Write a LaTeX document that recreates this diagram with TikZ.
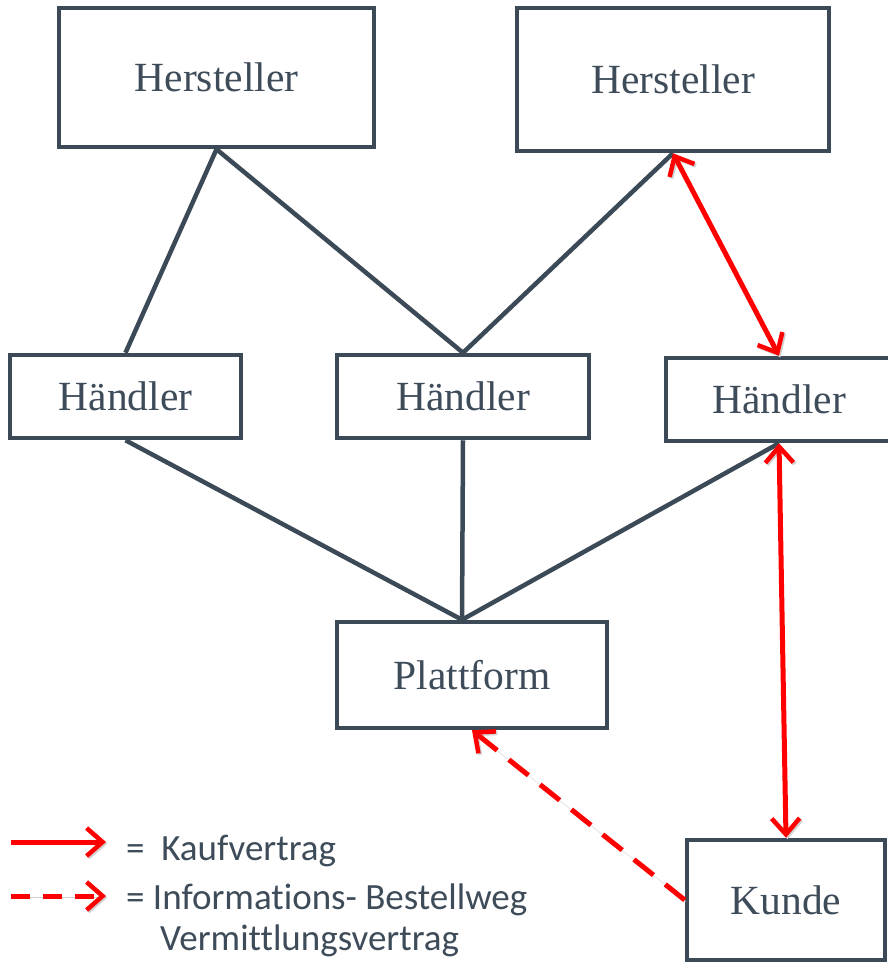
\documentclass[tikz,border=0pt]{standalone}
\usepackage{fontspec}
\setmainfont{Liberation Serif}
\newfontfamily\legendfont[Ligatures={NoCommon}]{Carlito}
\usetikzlibrary{arrows.meta,calc}
\definecolor{boxgray}{HTML}{3C4A58}
\definecolor{txtgray}{HTML}{3E4C5A}
\definecolor{kred}{HTML}{FF0000}
\tikzset{
  redtip/.tip={Straight Barb[length=16pt, width=28pt, line width=4.5pt]},
  box/.style={draw=boxgray, line width=4.5pt, fill=white, text=txtgray,
    font=\fontsize{41.5}{48}\selectfont, inner sep=0pt},
  link/.style={draw=boxgray, line width=4.5pt},
  kauf/.style={draw=kred, line width=5pt, {redtip}-{redtip},
    preaction={draw=black!18, transform canvas={shift={(1.5pt,-1.5pt)}}}},
  kaufone/.style={draw=kred, line width=5pt, -{redtip},
    preaction={draw=black!18, transform canvas={shift={(1.5pt,-1.5pt)}}}},
  info/.style={draw=kred, line width=5pt, dash pattern=on 25pt off 15pt, -{redtip},
    preaction={draw=black!18, transform canvas={shift={(1.5pt,-1.5pt)}}}},
  infolegend/.style={draw=kred, line width=5pt, dash pattern=on 19pt off 13pt, -{redtip},
    preaction={draw=black!18, transform canvas={shift={(1.5pt,-1.5pt)}}}},
  legtext/.style={text=txtgray, font=\legendfont\fontsize{37}{44}\selectfont, anchor=base west, inner sep=0pt},
}
\begin{document}
\begin{tikzpicture}[x=1pt, y=-1pt]
\path[use as bounding box, fill=white] (0,0) rectangle (888,963);

% boxes
\node[box, minimum width=315pt, minimum height=139pt] (h1) at (216.5,77.5) {Hersteller};
\node[box, minimum width=312pt, minimum height=143pt] (h2) at (673,79.5) {Hersteller};
\node[box, minimum width=231pt, minimum height=83pt] (d1) at (125.5,396.5) {Händler};
\node[box, minimum width=252pt, minimum height=83pt] (d2) at (463,396.5) {Händler};
\node[box, minimum width=226pt, minimum height=83pt] (d3) at (779,399.5) {Händler};
\node[box, minimum width=270pt, minimum height=106pt] (pl) at (472,675) {Plattform};
\node[box, minimum width=198pt, minimum height=120pt] (ku) at (786,900) {Kunde};

% gray links
\draw[link] (h1.south) -- (d1.north);
\draw[link] (h1.south) -- (d2.north);
\draw[link] (h2.south) -- (d2.north);
\draw[link] (d1.south) -- ([xshift=-10pt]pl.north);
\draw[link] (d2.south) -- ([xshift=-10pt]pl.north);
\draw[link] (d3.south) -- ([xshift=-10pt]pl.north);

% red connectors
\draw[kauf] (h2.south) -- (d3.north);
\draw[kauf] (d3.south) -- (ku.north);
\draw[info] (ku.west) -- (pl.south);

% legend
\coordinate (la1) at (11,842);
\coordinate (lb1) at (106,842);
\coordinate (la2) at (11,896);
\coordinate (lb2) at (106,896);
\draw[kaufone] (la1) -- (lb1);
\draw[infolegend] (la2) -- (lb2);
\node[legtext] (t1) at (126,860) {=\ \ Kaufvertrag};
\node[legtext] (t2) at (126,909) {= Informations- Bestellweg};
\node[legtext] (t3) at (160,950) {Vermittlungsvertrag};
\end{tikzpicture}
\end{document}
